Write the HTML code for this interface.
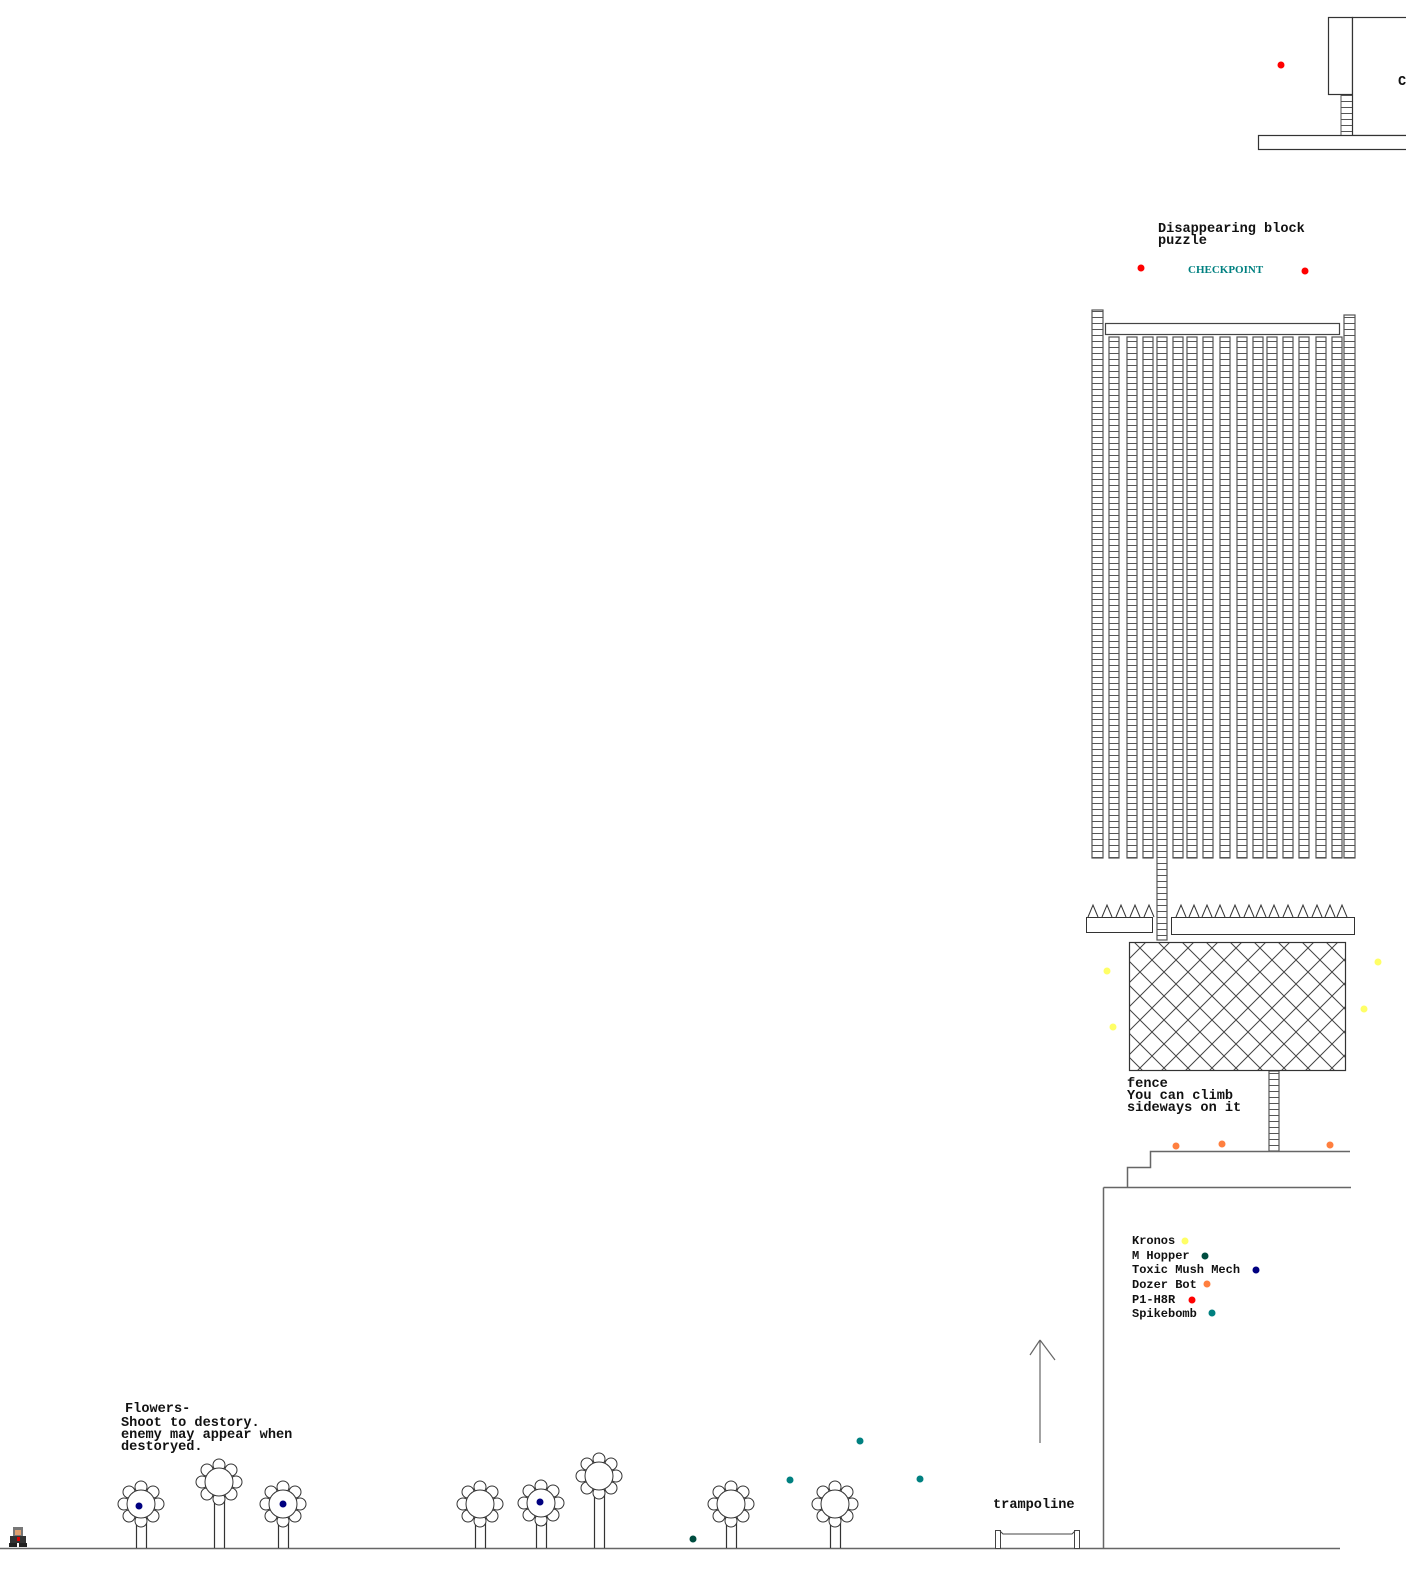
<!DOCTYPE html>
<html><head><meta charset="utf-8"><style>
html,body{margin:0;padding:0;background:#fff;}
svg{display:block}
text{font-family:"Liberation Mono",monospace;font-weight:bold;font-size:13.6px;fill:#111}
text.lg{font-size:12px}
</style></head><body>
<svg width="1406" height="1570" viewBox="0 0 1406 1570" xmlns="http://www.w3.org/2000/svg">
<defs>
<pattern id="rung" width="20" height="6" patternUnits="userSpaceOnUse"><line x1="0" y1="5.5" x2="20" y2="5.5" stroke="#555" stroke-width="1"/></pattern>
<pattern id="fence" width="24" height="24" patternUnits="userSpaceOnUse"><path d="M0,0 L24,24 M24,0 L0,24 M-1,23 L1,25 M23,-1 L25,1" stroke="#444" stroke-width="1" fill="none"/></pattern>
<g id="fl">
<g fill="#fff" stroke="#333" stroke-width="1">
<circle cx="0" cy="-17" r="6"/><circle cx="12" cy="-12" r="6"/><circle cx="17" cy="0" r="6"/><circle cx="12" cy="12" r="6"/>
<circle cx="0" cy="17" r="6"/><circle cx="-12" cy="12" r="6"/><circle cx="-17" cy="0" r="6"/><circle cx="-12" cy="-12" r="6"/>
<circle cx="0" cy="0" r="14"/></g></g>
</defs>
<g stroke="#333" fill="none" stroke-width="1.2">
<rect x="1328.5" y="17.5" width="24" height="77" fill="#fff"/>
<rect x="1352.5" y="17.5" width="60" height="118" fill="#fff"/>
<rect x="1258.5" y="135.5" width="160" height="14" fill="#fff"/>
</g>
<rect x="1341" y="95" width="11" height="40" fill="url(#rung)"/>
<line x1="1341" y1="95" x2="1341" y2="135" stroke="#555"/>
<text x="1398" y="85">C</text>
<circle cx="1281" cy="65" r="3.5" fill="#f00"/>
<text x="1158" y="232">Disappearing block</text>
<text x="1158" y="244">puzzle</text>
<text x="1188" y="273" style="fill:#008080;font-family:'Liberation Serif',serif;font-size:11px">CHECKPOINT</text>
<circle cx="1141" cy="268" r="3.5" fill="#f00"/>
<circle cx="1305" cy="271" r="3.5" fill="#f00"/>
<g stroke="#555" stroke-width="1.2">
<rect x="1092" y="310" width="11" height="548" fill="url(#rung)"/>
<rect x="1344" y="315" width="11" height="543" fill="url(#rung)"/>
<rect x="1109" y="337" width="10" height="521" fill="url(#rung)"/>
<rect x="1127" y="337" width="10" height="521" fill="url(#rung)"/>
<rect x="1143" y="337" width="10" height="521" fill="url(#rung)"/>
<rect x="1157" y="337" width="10" height="603" fill="url(#rung)"/>
<rect x="1173" y="337" width="10" height="521" fill="url(#rung)"/>
<rect x="1187" y="337" width="10" height="521" fill="url(#rung)"/>
<rect x="1203" y="337" width="10" height="521" fill="url(#rung)"/>
<rect x="1220" y="337" width="10" height="521" fill="url(#rung)"/>
<rect x="1237" y="337" width="10" height="521" fill="url(#rung)"/>
<rect x="1253" y="337" width="10" height="521" fill="url(#rung)"/>
<rect x="1267" y="337" width="10" height="521" fill="url(#rung)"/>
<rect x="1283" y="337" width="10" height="521" fill="url(#rung)"/>
<rect x="1299" y="337" width="10" height="521" fill="url(#rung)"/>
<rect x="1316" y="337" width="10" height="521" fill="url(#rung)"/>
<rect x="1332" y="337" width="10" height="521" fill="url(#rung)"/>
<rect x="1269" y="1071" width="10" height="80" fill="url(#rung)"/>
</g>
<rect x="1105.5" y="323.5" width="234" height="11" fill="#fff" stroke="#444" stroke-width="1.2"/>
<g fill="#fff" stroke="#333" stroke-width="1">
<rect x="1086.5" y="917.5" width="66" height="15"/>
<rect x="1171.5" y="917.5" width="183" height="17"/>
<path d="M1088,917 l5,-12 l5,12 M1102,917 l5,-12 l5,12 M1116,917 l5,-12 l5,12 M1130,917 l5,-12 l5,12 M1144,917 l5,-12 l5,12"/>
<path d="M1176,917 l5,-12 l5,12 M1189,917 l5,-12 l5,12 M1202,917 l5,-12 l5,12 M1215,917 l5,-12 l5,12 M1230,917 l5,-12 l5,12 M1244,917 l5,-12 l5,12 M1256,917 l5,-12 l5,12 M1269,917 l5,-12 l5,12 M1283,917 l5,-12 l5,12 M1298,917 l5,-12 l5,12 M1312,917 l5,-12 l5,12 M1325,917 l5,-12 l5,12 M1337,917 l5,-12 l5,12"/>
</g>
<rect x="1129.5" y="942.5" width="216" height="128" fill="url(#fence)" stroke="#333" stroke-width="1.2"/>
<g fill="#ffff66"><circle cx="1107" cy="971" r="3.5"/><circle cx="1113" cy="1027" r="3.5"/><circle cx="1378" cy="962" r="3.5"/><circle cx="1364" cy="1009" r="3.5"/></g>
<text x="1127" y="1087">fence</text>
<text x="1127" y="1099">You can climb</text>
<text x="1127" y="1111">sideways on it</text>
<g fill="#ff7f3f"><circle cx="1176" cy="1146" r="3.5"/><circle cx="1222" cy="1144" r="3.5"/><circle cx="1330" cy="1145" r="3.5"/></g>
<path d="M1350,1151.5 H1150.5 V1167.5 H1127.5 V1187.5 M1103.5,1187.5 H1351 M1103.5,1187.5 V1549 M0,1548.5 H1340" stroke="#666" stroke-width="1.5" fill="none"/>
<text class="lg" x="1132" y="1244">Kronos</text><circle cx="1185" cy="1241" r="3.5" fill="#ffff66"/>
<text class="lg" x="1132" y="1259">M Hopper</text><circle cx="1205" cy="1256" r="3.5" fill="#004d40"/>
<text class="lg" x="1132" y="1273">Toxic Mush Mech</text><circle cx="1256" cy="1270" r="3.5" fill="#000080"/>
<text class="lg" x="1132" y="1288">Dozer Bot</text><circle cx="1207" cy="1284" r="3.5" fill="#ff7f3f"/>
<text class="lg" x="1132" y="1303">P1-H8R</text><circle cx="1192" cy="1300" r="3.5" fill="#f00"/>
<text class="lg" x="1132" y="1317">Spikebomb</text><circle cx="1212" cy="1313" r="3.5" fill="#008080"/>
<path d="M1040,1443 V1340 M1040,1340 L1030,1355 M1040,1340 L1055,1360" stroke="#666" stroke-width="1.2" fill="none"/>
<text x="993" y="1508">trampoline</text>
<g stroke="#444" stroke-width="1" fill="#fff">
<rect x="995.5" y="1530.5" width="5" height="18"/><rect x="1074.5" y="1530.5" width="5" height="18"/>
<path d="M1000,1531 L1003,1534 H1072 L1075,1531" fill="none"/>
</g>
<text x="125" y="1412">Flowers-</text>
<text x="121" y="1426">Shoot to destory.</text>
<text x="121" y="1438">enemy may appear when</text>
<text x="121" y="1450">destoryed.</text>
<g stroke="#333" stroke-width="1.2">
<path d="M136.5,1518 V1548 M146.5,1518 V1548 M214.5,1496 V1548 M224.5,1496 V1548 M278.5,1518 V1548 M288.5,1518 V1548 M475.5,1518 V1548 M485.5,1518 V1548 M536.5,1516 V1548 M546.5,1516 V1548 M594.5,1490 V1548 M604.5,1490 V1548 M726.5,1518 V1548 M736.5,1518 V1548 M830.5,1518 V1548 M840.5,1518 V1548"/>
</g>
<use href="#fl" x="141" y="1504"/><use href="#fl" x="219" y="1482"/><use href="#fl" x="283" y="1504"/>
<use href="#fl" x="480" y="1504"/><use href="#fl" x="541" y="1503"/><use href="#fl" x="599" y="1476"/>
<use href="#fl" x="731" y="1504"/><use href="#fl" x="835" y="1504"/>
<g fill="#000080"><circle cx="139" cy="1506" r="3.5"/><circle cx="283" cy="1504" r="3.5"/><circle cx="540" cy="1502" r="3.5"/></g>
<g fill="#008080"><circle cx="860" cy="1441" r="3.5"/><circle cx="790" cy="1480" r="3.5"/><circle cx="920" cy="1479" r="3.5"/></g>
<circle cx="693" cy="1539" r="3.5" fill="#004d40"/>
<g>
<rect x="13" y="1527" width="10" height="9" fill="#777"/>
<rect x="15" y="1530" width="6" height="5" fill="#e0a070"/>
<rect x="10" y="1536" width="16" height="7" fill="#333"/>
<rect x="17" y="1537" width="3" height="4" fill="#d00"/>
<rect x="9" y="1543" width="8" height="4" fill="#222"/>
<rect x="19" y="1543" width="8" height="4" fill="#222"/>
</g>
</svg>
</body></html>
